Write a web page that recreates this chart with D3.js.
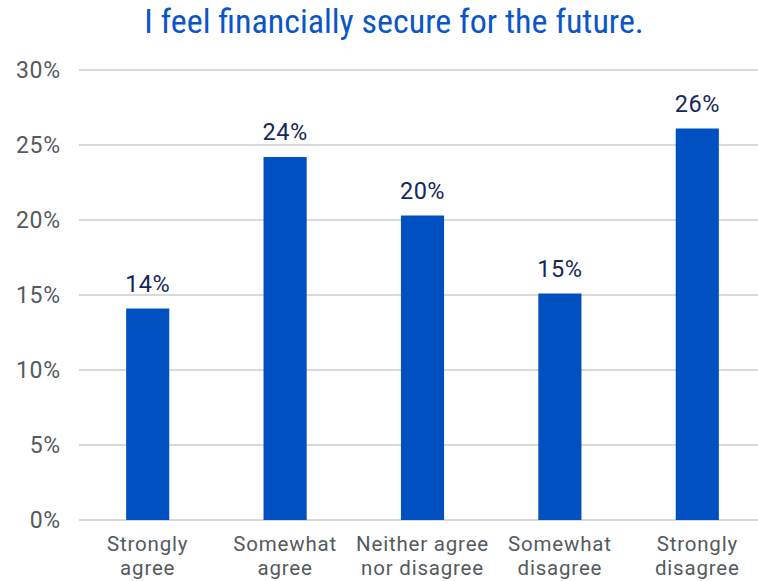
<!DOCTYPE html>
<html>
<head>
<meta charset="utf-8">
<script src="https://cdn.jsdelivr.net/npm/d3@7/dist/d3.min.js"></script>
<style>
  html, body { margin: 0; padding: 0; background: #fff; }
  svg { display: block; }
</style>
</head>
<body>
<svg id="chart" width="758" height="581"></svg>
<script>
// Survey responses: "I feel financially secure for the future."
const categories = [
  ["Strongly", "agree"],
  ["Somewhat", "agree"],
  ["Neither agree", "nor disagree"],
  ["Somewhat", "disagree"],
  ["Strongly", "disagree"]
];
const shares = [14.1, 24.2, 20.3, 15.1, 26.1];
const yTicks = [0, 5, 10, 15, 20, 25, 30];
const titleText = "I feel financially secure for the future.";

const W = 758, H = 581;
const svg = d3.select("#chart");
const font = "Roboto, 'Liberation Sans', Arial, sans-serif";

const keys = categories.map(c => c.join(" "));
const x = d3.scaleBand()
  .domain(keys)
  .range([79, 766])
  .paddingInner(0.686)
  .paddingOuter(0.343);
const y = d3.scaleLinear().domain([0, 30]).range([520, 70]);

// title
svg.append("text")
  .attr("x", 394).attr("y", 33)
  .attr("text-anchor", "middle")
  .attr("font-family", "'Liberation Sans Narrow', 'Roboto Condensed', Roboto, sans-serif")
  .attr("font-size", 34)
  .attr("fill", "#0a56c8")
  .text(titleText);

// gridlines
svg.append("g").selectAll("line")
  .data(yTicks)
  .join("line")
  .attr("x1", 79).attr("x2", W)
  .attr("y1", d => y(d)).attr("y2", d => y(d))
  .attr("stroke", "#d9d9d9")
  .attr("stroke-width", 2);

// y axis labels
const yAxis = d3.axisLeft(y).tickValues(yTicks).tickFormat(d => d + "%").tickSize(0).tickPadding(0);
const gy = svg.append("g").attr("transform", "translate(61,0)").call(yAxis);
gy.select(".domain").remove();
gy.selectAll("text")
  .attr("font-family", font)
  .attr("font-size", 23)
  .attr("letter-spacing", "0.8px")
  .attr("fill", "#555a5e");

// bars
svg.append("g").selectAll("rect")
  .data(shares)
  .join("rect")
  .attr("x", (d, i) => x(keys[i]))
  .attr("width", x.bandwidth())
  .attr("y", d => y(d))
  .attr("height", d => y(0) - y(d))
  .attr("fill", "#0050c2");

// value labels
svg.append("g").selectAll("text")
  .data(shares)
  .join("text")
  .attr("x", (d, i) => x(keys[i]) + x.bandwidth() / 2)
  .attr("y", d => y(d) - 17)
  .attr("text-anchor", "middle")
  .attr("font-family", font)
  .attr("font-size", 23.5)
  .attr("letter-spacing", "0.5px")
  .attr("fill", "#14285c")
  .text(d => Math.round(d) + "%");

// category labels
const xAxis = d3.axisBottom(x).tickSize(0).tickFormat("");
const gx = svg.append("g").attr("transform", "translate(0,520)").call(xAxis);
gx.select(".domain").remove();
gx.selectAll(".tick").each(function(d, i) {
  const t = d3.select(this).append("text")
    .attr("text-anchor", "middle")
    .attr("font-family", font)
    .attr("font-size", 20.5)
    .attr("letter-spacing", "0.8px")
    .attr("fill", "#555a5e");
  categories[i].forEach((line, j) => {
    t.append("tspan").attr("x", 0).attr("y", 31 + j * 24).text(line);
  });
});
</script>
</body>
</html>
